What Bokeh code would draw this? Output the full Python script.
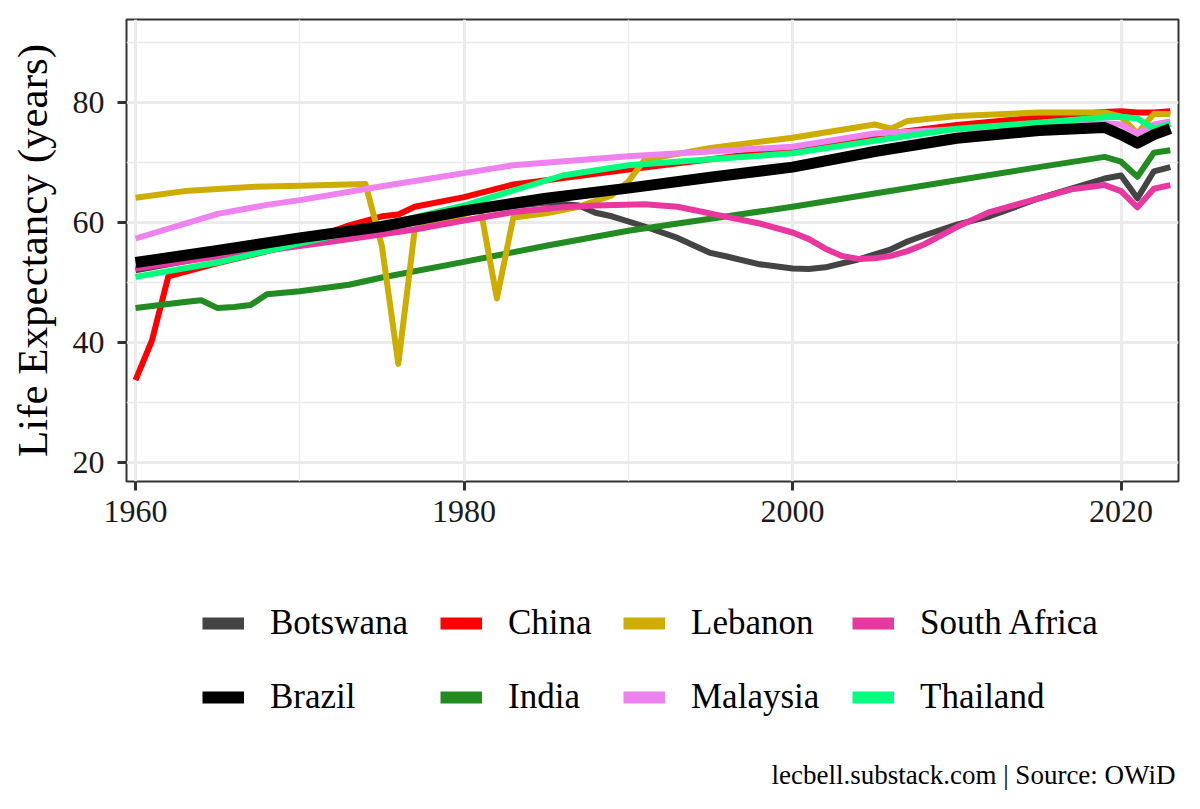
from bokeh.plotting import figure
from bokeh.layouts import column
from bokeh.models import Range1d, FixedTicker, Legend, LegendItem, Label
from bokeh.embed import file_html
from bokeh.resources import INLINE

# data (life expectancy, years)
botswana_years = [1960, 1965, 1970, 1975, 1980, 1985, 1987, 1988, 1989, 1991, 1993, 1995, 1996, 1998,
                  2000, 2001, 2002, 2004, 2006, 2007, 2008, 2010, 2012, 2015, 2019, 2020, 2021, 2022, 2023]
botswana_le = [52.0, 54.5, 57.0, 59.5, 61.8, 63.3, 62.8, 61.6, 61.0, 59.3, 57.4, 54.9, 54.3, 53.0,
               52.3, 52.2, 52.5, 53.8, 55.5, 56.8, 57.8, 59.6, 61.0, 64.0, 67.3, 67.8, 64.0, 68.5, 69.2]

brazil_years = [1960, 1965, 1970, 1975, 1980, 1985, 1990, 1995, 2000, 2005, 2010, 2015, 2019, 2020, 2021, 2022, 2023]
brazil_le = [53.3, 55.3, 57.4, 59.3, 61.9, 64.0, 65.7, 67.5, 69.2, 71.8, 74.0, 75.3, 75.8, 74.6, 73.2, 74.6, 75.6]

china_years = [1960, 1961, 1962, 1965, 1970, 1973, 1975, 1976, 1977, 1980, 1983, 1985, 1990, 1995,
               2000, 2005, 2010, 2015, 2019, 2020, 2021, 2022, 2023]
china_le = [33.7, 40.3, 51.0, 53.2, 56.5, 59.5, 61.0, 61.3, 62.6, 64.2, 66.3, 67.0, 68.8, 70.5,
            72.2, 74.5, 76.2, 77.5, 78.4, 78.5, 78.3, 78.3, 78.5]

india_years = [1960, 1963, 1964, 1965, 1966, 1967, 1968, 1970, 1973, 1975, 1980, 1985, 1990, 1995,
               2000, 2005, 2010, 2015, 2019, 2020, 2021, 2022, 2023]
india_le = [45.7, 46.7, 47.0, 45.7, 45.9, 46.2, 48.0, 48.5, 49.6, 50.8, 53.4, 56.1, 58.6, 60.6,
            62.6, 64.8, 67.0, 69.2, 70.9, 70.1, 67.6, 71.6, 72.0]

lebanon_years = [1960, 1963, 1967, 1970, 1974, 1975, 1976, 1977, 1979, 1981, 1982, 1983, 1985, 1987,
                 1989, 1990, 1991, 1995, 2000, 2005, 2006, 2007, 2010, 2015, 2019, 2020, 2021, 2022, 2023]
lebanon_le = [64.1, 65.2, 65.9, 66.1, 66.4, 56.0, 36.4, 58.8, 60.3, 62.3, 47.3, 60.8, 61.5, 62.6,
              64.5, 66.8, 70.4, 72.4, 74.1, 76.3, 75.6, 76.9, 77.7, 78.3, 78.3, 77.6, 74.8, 78.1, 78.0]

malaysia_years = [1960, 1965, 1968, 1970, 1975, 1980, 1983, 1990, 1995, 2000, 2005, 2010, 2015,
                  2019, 2020, 2021, 2022, 2023]
malaysia_le = [57.3, 61.4, 62.9, 63.7, 66.0, 68.2, 69.5, 71.0, 71.8, 72.6, 74.8, 75.5, 76.0,
               76.5, 76.3, 74.8, 76.3, 76.8]

south_africa_years = [1960, 1965, 1968, 1972, 1977, 1980, 1983, 1986, 1988, 1991, 1993, 1996, 1998,
                      2000, 2001, 2002, 2003, 2004, 2005, 2006, 2007, 2008, 2010, 2012, 2015, 2017,
                      2019, 2020, 2021, 2022, 2023]
south_africa_le = [52.3, 54.3, 55.3, 56.8, 58.8, 60.3, 61.7, 62.5, 62.8, 63.0, 62.6, 60.9, 59.8,
                   58.3, 57.2, 55.6, 54.4, 53.9, 54.0, 54.4, 55.2, 56.3, 59.2, 61.7, 64.0, 65.5,
                   66.2, 65.2, 62.5, 65.6, 66.2]

thailand_years = [1960, 1965, 1970, 1975, 1980, 1983, 1986, 1990, 1995, 2000, 2005, 2010, 2015,
                  2019, 2020, 2021, 2022, 2023]
thailand_le = [50.9, 53.3, 56.5, 59.5, 62.8, 65.3, 67.8, 69.5, 70.5, 71.5, 73.6, 75.6, 76.6,
               77.5, 77.6, 77.3, 75.6, 76.4]

countries = ["Botswana", "Brazil", "China", "India", "Lebanon", "Malaysia", "South Africa", "Thailand"]
colors = ["#444444", "#000000", "#FF0000", "#228B22", "#CDAD00", "#EE82EE", "#E8379F", "#00FF7F"]

x_ticks = [1960, 1980, 2000, 2020]
y_ticks = [20, 40, 60, 80]

FONT = "Liberation Serif"

p = figure(frame_width=1052, frame_height=462,
           x_range=Range1d(1959.45, 2023.5), y_range=Range1d(16.8, 93.8),
           min_border_left=126, min_border_right=6, min_border_top=19, min_border_bottom=60,
           output_backend="svg", toolbar_location=None)

p.background_fill_color = "white"
p.border_fill_color = "white"
p.outline_line_color = "#333333"
p.outline_line_width = 2

p.xaxis.ticker = FixedTicker(ticks=x_ticks, minor_ticks=[1970, 1990, 2010])
p.yaxis.ticker = FixedTicker(ticks=y_ticks, minor_ticks=[30, 50, 70, 90])

for ax in [p.xaxis, p.yaxis]:
    ax.axis_line_color = None
    ax.major_tick_line_color = "#333333"
    ax.major_tick_line_width = 3
    ax.major_tick_out = 9
    ax.major_tick_in = 0
    ax.minor_tick_line_color = None
    ax.major_label_text_font = FONT
    ax.major_label_text_font_size = "32px"
    ax.major_label_text_color = "#1a1a1a"

p.xaxis.major_label_standoff = 10
p.yaxis.major_label_standoff = 13
p.yaxis.axis_label = "Life Expectancy (years)"
p.yaxis.axis_label_text_font = FONT
p.yaxis.axis_label_text_font_size = "43px"
p.yaxis.axis_label_text_font_style = "normal"
p.yaxis.axis_label_text_color = "#000000"
p.yaxis.axis_label_standoff = 14

for g in [p.xgrid, p.ygrid]:
    g.grid_line_color = "#EBEBEB"
    g.grid_line_width = 3
    g.minor_grid_line_color = "#EBEBEB"
    g.minor_grid_line_width = 1.5

series = {
    "Botswana": (botswana_years, botswana_le),
    "Brazil": (brazil_years, brazil_le),
    "China": (china_years, china_le),
    "India": (india_years, india_le),
    "Lebanon": (lebanon_years, lebanon_le),
    "Malaysia": (malaysia_years, malaysia_le),
    "South Africa": (south_africa_years, south_africa_le),
    "Thailand": (thailand_years, thailand_le),
}

# Brazil is highlighted, drawn last and thicker
for name, col in zip(countries, colors):
    if name == "Brazil":
        continue
    xs, ys = series[name]
    p.line(xs, ys, line_color=col, line_width=6, line_join="round")
p.line(brazil_years, brazil_le, line_color="#000000", line_width=11, line_join="round")

# second panel below: legend + caption (its frame lines up with the plot frame)
q = figure(width=1184, height=249, x_range=Range1d(0, 1), y_range=Range1d(0, 1),
           x_axis_location=None, y_axis_location=None,
           min_border=0, output_backend="svg", toolbar_location=None)
q.grid.visible = False
q.outline_line_color = None
q.background_fill_color = "white"
q.border_fill_color = "white"

# legend key lines: same series, outside this panel's ranges so only the keys show
keys = {}
for name, col in zip(countries, colors):
    xs, ys = series[name]
    keys[name] = q.line(xs, ys, line_color=col, line_width=12)

col_x = [76, 314, 497, 726]
for i in range(4):
    names = countries[2 * i:2 * i + 2]
    leg = Legend(items=[LegendItem(label=n, renderers=[keys[n]]) for n in names],
                 location=(col_x[i], 73), orientation="vertical",
                 glyph_width=42, glyph_height=40, label_height=40, label_standoff=26,
                 spacing=34, padding=0, margin=0,
                 border_line_color=None, background_fill_alpha=0,
                 label_text_font=FONT, label_text_font_size="35px", label_text_color="#000000")
    q.add_layout(leg)

q.add_layout(Label(x=1049, y=16, x_units="screen", y_units="screen",
                   text="lecbell.substack.com | Source: OWiD",
                   text_align="right", text_baseline="middle",
                   text_font=FONT, text_font_size="27px", text_color="#000000"))

open("out.html", "w").write(file_html(column(p, q), INLINE))
